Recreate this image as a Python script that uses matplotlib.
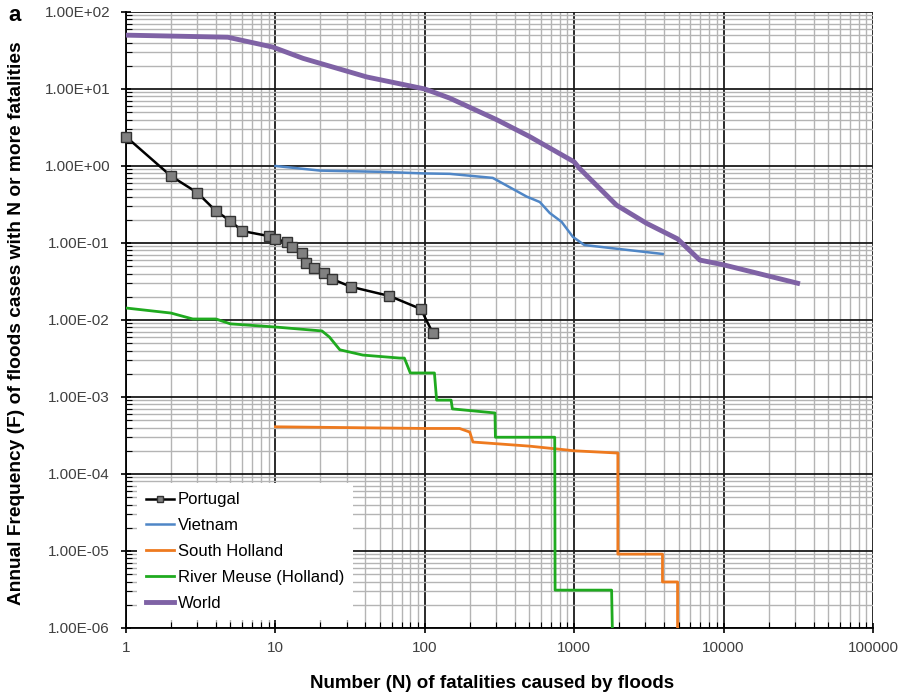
import matplotlib.pyplot as plt
from matplotlib.ticker import LogLocator, FuncFormatter, NullFormatter

plt.rcParams['font.family'] = ['Liberation Sans', 'DejaVu Sans']

# Portugal (markers)
portugal_n = [1, 2, 3, 4, 5, 6, 9, 10, 12, 13, 15, 16, 18, 21, 24, 32, 58, 94, 113]
portugal_f = [2.4, 0.74, 0.45, 0.26, 0.193, 0.143, 0.123, 0.112, 0.103, 0.089,
              0.074, 0.055, 0.047, 0.041, 0.034, 0.027, 0.0205, 0.0139, 0.0068]

# Vietnam
vietnam_n = [10, 20, 50, 100, 147, 285, 481, 589, 686, 824, 980, 1170, 3910]
vietnam_f = [1.0, 0.87, 0.84, 0.80, 0.79, 0.70, 0.40, 0.34, 0.245, 0.188, 0.12, 0.094, 0.072]

# South Holland (stepped)
sholland_n = [10, 100, 171, 200, 210, 500, 890, 1000, 1960, 1960, 3900, 3900, 4920, 4920]
sholland_f = [0.00041, 0.00039, 0.00039, 0.00035, 0.00026, 0.00023, 0.000205, 0.0002,
              0.000187, 9.1e-6, 9.1e-6, 3.96e-6, 3.96e-6, 1e-6]

# River Meuse (stepped)
meuse_n = [1, 2, 2.8, 4, 5, 10, 20.5, 23, 27, 38.5, 68, 73, 80, 116, 120, 150, 153,
           295, 297, 741, 745, 1780, 1800]
meuse_f = [0.0143, 0.0123, 0.0103, 0.0103, 0.0089, 0.0081, 0.0072, 0.006, 0.0041,
           0.0035, 0.0032, 0.0032, 0.00205, 0.00205, 0.00091, 0.00091, 0.0007,
           0.00062, 0.0003, 0.0003, 3.1e-6, 3.1e-6, 1e-6]

# World
world_n = [1, 4.8, 9.6, 15.3, 41, 100, 147, 302, 505, 1000, 1080, 1920, 3050, 4920,
           6920, 10000, 31300]
world_f = [50, 47, 35, 25, 14.3, 10, 7.6, 4.0, 2.4, 1.13, 0.94, 0.31, 0.18, 0.113,
           0.06, 0.052, 0.030]

fig = plt.figure(figsize=(9.07, 7), dpi=100)
ax = fig.add_axes([0.1389, 0.1029, 0.8236, 0.88])

ax.plot(portugal_n, portugal_f, color='black', lw=1.8, marker='s', ms=6.5,
        mfc='#808080', mec='#333333', mew=1, label='Portugal', zorder=5, clip_on=False)
ax.plot(vietnam_n, vietnam_f, color='#4f86c6', lw=1.8, label='Vietnam', zorder=4)
ax.plot(sholland_n, sholland_f, color='#ee7a1f', lw=2, label='South Holland', zorder=4)
ax.plot(meuse_n, meuse_f, color='#1faa1f', lw=2, label='River Meuse (Holland)', zorder=4)
ax.plot(world_n, world_f, color='#7f62a5', lw=3.5, label='World', zorder=4)

ax.set_xscale('log')
ax.set_yscale('log')
ax.set_xlim(1, 100000)
ax.set_ylim(1e-6, 1e2)

ax.xaxis.set_major_locator(LogLocator(base=10, numticks=10))
ax.yaxis.set_major_locator(LogLocator(base=10, numticks=10))
ax.xaxis.set_minor_locator(LogLocator(base=10, subs=range(2, 10), numticks=20))
ax.yaxis.set_minor_locator(LogLocator(base=10, subs=range(2, 10), numticks=20))
ax.xaxis.set_major_formatter(FuncFormatter(lambda v, p: '%d' % round(v)))
ax.yaxis.set_major_formatter(FuncFormatter(lambda v, p: '%.2E' % v))
ax.xaxis.set_minor_formatter(NullFormatter())
ax.yaxis.set_minor_formatter(NullFormatter())

ax.grid(which='minor', color='#b4b4b4', lw=1)
ax.grid(which='major', color='#1a1a1a', lw=1.3)
ax.tick_params(which='major', direction='inout', length=7, width=1.2,
               labelsize=11, labelcolor='#404040', pad=6)
ax.tick_params(axis='y', which='major', pad=8)
ax.tick_params(which='minor', direction='in', length=4, width=0.8)
for s in ['top', 'right']:
    ax.spines[s].set_visible(False)
for s in ['left', 'bottom']:
    ax.spines[s].set_linewidth(1.3)

ax.set_xlabel('Number (N) of fatalities caused by floods', fontsize=13.5,
              fontweight='bold')
ax.xaxis.set_label_coords(0.49, -0.077)
ax.set_ylabel('Annual Frequency (F) of floods cases with N or more fatalities',
              fontsize=13.8, fontweight='bold')
ax.yaxis.set_label_coords(-0.135, 0.495)

leg = ax.legend(loc='lower left', bbox_to_anchor=(0.0147, 0.013), fontsize=12,
                frameon=True, facecolor='white', edgecolor='white', framealpha=1,
                fancybox=False, handlelength=1.7, handletextpad=0.2,
                labelspacing=0.65, borderpad=0.55, borderaxespad=0)
leg.get_frame().set_linewidth(0)
for line in leg.get_lines():
    line.set_markersize(4)

fig.text(0.009, 0.97, 'a', fontsize=16, fontweight='bold')

fig.savefig('out.png', dpi=100)
